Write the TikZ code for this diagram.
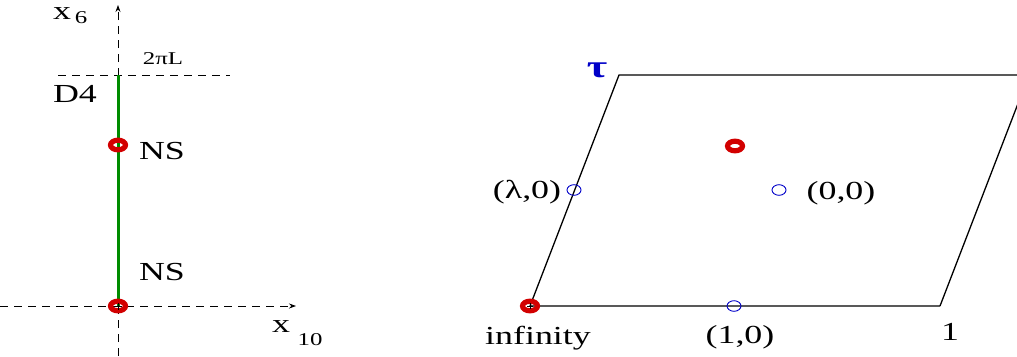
\documentclass[tikz,border=0pt]{standalone}
\usepackage{fontspec}
\setmainfont{Liberation Serif}
\usetikzlibrary{arrows.meta}
\definecolor{ringred}{RGB}{210,0,0}
\definecolor{ptblue}{RGB}{0,0,200}
\definecolor{dgreen}{RGB}{0,140,0}
\newcommand{\wide}[1]{\scalebox{1.38}[1]{#1}}
\tikzset{
  axis/.style={dash pattern=on 8pt off 6pt, line width=0.8pt},
  ring/.style={draw=ringred, line width=5.2pt, x radius=7.5pt, y radius=4.8pt},
  bluept/.style={draw=ptblue, line width=0.9pt, x radius=7pt, y radius=5.3pt},
  lbl/.style={inner sep=0pt, font=\fontsize{26}{26}\selectfont},
  small/.style={inner sep=0pt, font=\fontsize{18}{18}\selectfont},
  edge/.style={line width=1.3pt, black}
}
\begin{document}
\begin{tikzpicture}[x=1pt,y=-1pt]
\useasboundingbox (0,0) rectangle (1017,356);
% left diagram
\coordinate (vtop) at (118,5);
\coordinate (vbot) at (118,356);
\coordinate (hl) at (0,306);
\coordinate (hr) at (296,306);
\coordinate (dl) at (58,75);
\coordinate (dr) at (230,75);
\coordinate (d4top) at (118,75);
\coordinate (ns1) at (118,145);
\coordinate (ns2) at (118,306);
\draw[axis, -{Stealth[length=7pt,width=5pt]}] (vbot) -- (vtop);
\draw[axis, -{Stealth[length=7pt,width=5pt]}] (hl) -- (hr);
\draw[axis] (dl) -- (dr);
\draw[dgreen, line width=3pt] (d4top) -- (ns2);
\draw[ring] (ns1) ellipse [];
\draw[ring] (ns2) ellipse [];
\draw[line width=0.8pt] (114.5,306) -- (121.5,306) (118,302.5) -- (118,309.5);
\node[lbl] (x6) at (62,14) {\wide{x}};
\node[small] (x6s) at (81,18) {\wide{6}};
\node[small] (tpl) at (163,59) {\wide{2πL}};
\node[lbl] (d4) at (75,94) {\wide{D4}};
\node[lbl] (ns1l) at (162,151) {\wide{NS}};
\node[lbl] (ns2l) at (162,272) {\wide{NS}};
\node[lbl] (x10) at (281,327) {\wide{x}};
\node[small] (x10s) at (310,340) {\wide{10}};
% right diagram
\coordinate (A) at (530,306);
\coordinate (B) at (940,306);
\coordinate (D) at (619,75);
\coordinate (C) at (1029,75);
\begin{scope}
\clip (0,0) rectangle (1017,356);
\draw[edge, line join=miter] (B) -- (A) -- (D) -- (C) -- (B);
\end{scope}
\coordinate (red2) at (735,146);
\coordinate (lam) at (574,190);
\coordinate (zz) at (779,190);
\coordinate (one0) at (734,306);
\draw[ring] (red2) ellipse [];
\draw[ring] (A) ellipse [];
\draw[line width=0.8pt] (527,306) -- (533,306) (530,303) -- (530,309);
\draw[bluept] (lam) ellipse [];
\draw[bluept] (zz) ellipse [];
\draw[bluept] (one0) ellipse [];
\node[inner sep=0pt, font=\fontsize{32}{32}\selectfont\bfseries, text=ptblue] (tau) at (597,70) {\wide{τ}};
\node[lbl] (laml) at (527,192) {\wide{(λ,0)}};
\node[lbl] (zzl) at (841,193) {\wide{(0,0)}};
\node[lbl] (infl) at (538,338) {\wide{infinity}};
\node[lbl] (onel) at (740,337) {\wide{(1,0)}};
\node[lbl] (onen) at (950,332) {\wide{1}};
\end{tikzpicture}
\end{document}
